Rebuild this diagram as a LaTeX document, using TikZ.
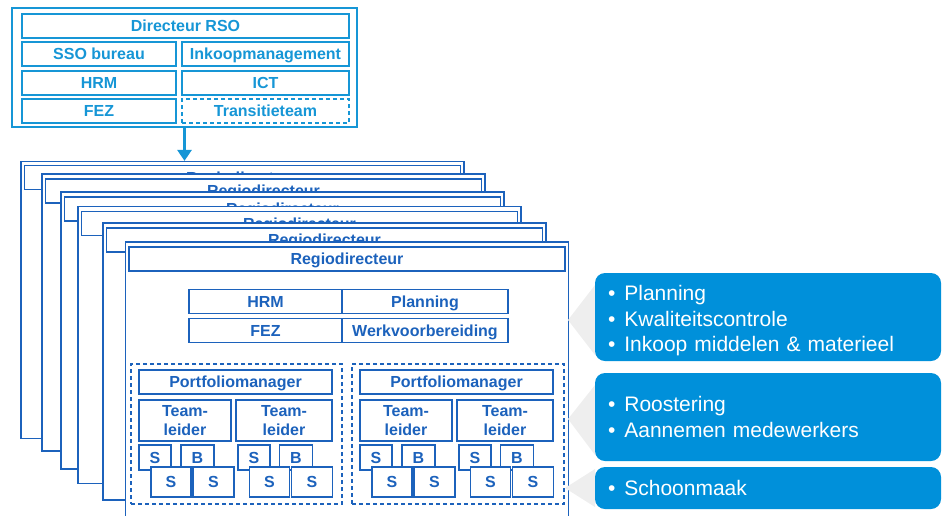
\documentclass[tikz,border=0pt]{standalone}
\usepackage{fontspec}
\setmainfont{Liberation Sans}
\usetikzlibrary{positioning,arrows.meta}
\definecolor{rsoblue}{RGB}{22,150,214}
\definecolor{regblue}{RGB}{28,98,188}
\definecolor{infoblue}{RGB}{0,144,218}
\definecolor{wedgegrey}{RGB}{238,238,238}
\newcommand\bul{\textbullet\hspace{9pt}}

\begin{document}
\begin{tikzpicture}[x=1pt,y=-1pt,
		lbl/.style={draw,fill=white,inner sep=0pt,align=center,font=\bfseries\fontsize{16}{18}\selectfont},
		oneline/.style={text height=12pt,text depth=0.5pt},
		rsobox/.style={lbl,oneline,draw=rsoblue,text=rsoblue,line width=1.2pt,minimum height=24pt},
		regline/.style={lbl,draw=regblue,text=regblue,line width=1.2pt},
		reg/.style={regline,oneline},
		panel/.style={reg,minimum width=443pt,minimum height=277pt},
		ptitle/.style={reg,minimum width=436pt,minimum height=24pt},
		pmbox/.style={reg,minimum width=193pt,minimum height=24pt},
		tlbox/.style={regline,minimum height=41pt,font=\bfseries\fontsize{16}{18.5}\selectfont},
		sback/.style={reg,minimum height=25pt},
		sfront/.style={reg,minimum height=30pt},
		group/.style={draw=regblue,line width=1.2pt,dash pattern=on 4pt off 3pt,minimum width=211pt,minimum height=140pt,inner sep=0pt},
		info/.style={fill=infoblue,text=white,rounded corners=10pt,minimum width=346pt,text width=320pt,align=left,inner sep=0pt,font=\fontsize{21}{25.5}\selectfont}]
	\clip (0,0) rectangle (942,515);
	% RSO
	\node[rsobox,line width=1.5pt,minimum width=345pt,minimum height=119pt] (rso) at (184.5,67.5) {};
	\node[rsobox,minimum width=327pt] (dir) at (185.5,26) {Directeur RSO};
	\node[rsobox,minimum width=154pt] (sso) at (99,54) {SSO bureau};
	\node[rsobox,minimum width=167pt] (ink) at (265.5,54) {Inkoopmanagement};
	\node[rsobox,minimum width=154pt] (hrm) at (99,83) {HRM};
	\node[rsobox,minimum width=167pt] (ict) at (265.5,83) {ICT};
	\node[rsobox,minimum width=154pt] (fez) at (99,111) {FEZ};
	\node[rsobox,dash pattern=on 4pt off 3pt,minimum width=167pt] (tra) at (265.5,111) {Transitieteam};
	% regio's
	\node[panel] (rg1) at (242.5,300) {};
	\node[ptitle,below=4pt of rg1.north] (rt1) {Regiodirecteur};
	\node[panel] (rg2) at (263.5,312.5) {};
	\node[ptitle,below=5pt of rg2.north] (rt2) {Regiodirecteur};
	\node[panel] (rg3) at (282.5,330.5) {};
	\node[ptitle,below=5pt of rg3.north] (rt3) {Regiodirecteur};
	\node[panel] (rg4) at (299.5,345) {};
	\node[ptitle,below=5pt of rg4.north] (rt4) {Regiodirecteur};
	\node[panel] (rg5) at (324.5,361.5) {};
	\node[ptitle,below=5pt of rg5.north] (rt5) {Regiodirecteur};
	\node[panel] (rg6) at (347,380.5) {};
	\node[ptitle,below=5pt of rg6.north] (rt6) {Regiodirecteur};
	% staf
	\node[reg,minimum width=153pt,minimum height=24pt] (rhrm) at (265.5,301.5) {HRM};
	\node[reg,minimum width=166pt,minimum height=24pt] (rpla) at (425,301.5) {Planning};
	\node[reg,minimum width=153pt,minimum height=24pt] (rfez) at (265.5,330.5) {FEZ};
	\node[reg,minimum width=166pt,minimum height=24pt] (rwvb) at (425,330.5) {Werkvoorbereiding};
	% portfolio links
	\node[group] (pf1) at (236.5,434) {};
	\node[pmbox] (pm1) at (235.5,382) {Portfoliomanager};
	\node[tlbox,minimum width=92pt] (tl1) at (185,420.5) {Team-\\leider};
	\node[tlbox,minimum width=96pt] (tl2) at (284,420.5) {Team-\\leider};
	\node[sback,minimum width=32pt] (s11) at (155,457.5) {S};
	\node[sback,minimum width=33pt] (b11) at (197.5,457.5) {B};
	\node[sfront,minimum width=40pt] (s12) at (171,482) {S};
	\node[sfront,minimum width=41pt] (s13) at (213.5,482) {S};
	\node[sback,minimum width=32pt] (s21) at (254,457.5) {S};
	\node[sback,minimum width=33pt] (b21) at (296,457.5) {B};
	\node[sfront,minimum width=40pt] (s22) at (269.5,482) {S};
	\node[sfront,minimum width=41pt] (s23) at (312,482) {S};
	% portfolio rechts
	\node[group,minimum width=212pt] (pf2) at (458,434) {};
	\node[pmbox] (pm2) at (456.5,382) {Portfoliomanager};
	\node[tlbox,minimum width=92pt] (tl3) at (406,420.5) {Team-\\leider};
	\node[tlbox,minimum width=96pt] (tl4) at (505,420.5) {Team-\\leider};
	\node[sback,minimum width=32pt] (s31) at (376,457.5) {S};
	\node[sback,minimum width=33pt] (b31) at (418.5,457.5) {B};
	\node[sfront,minimum width=40pt] (s32) at (392,482) {S};
	\node[sfront,minimum width=41pt] (s33) at (434.5,482) {S};
	\node[sback,minimum width=32pt] (s41) at (475,457.5) {S};
	\node[sback,minimum width=33pt] (b41) at (517,457.5) {B};
	\node[sfront,minimum width=40pt] (s42) at (490.5,482) {S};
	\node[sfront,minimum width=41pt] (s43) at (533,482) {S};
	% taken
	\fill[wedgegrey] (568,320) -- (595,285) -- (595,355) -- cycle;
	\fill[wedgegrey] (568,419) -- (595,385) -- (595,455) -- cycle;
	\fill[wedgegrey] (565,488) -- (595,469) -- (595,507) -- cycle;
	\node[info,minimum height=88pt] (tk1) at (768,317) {\rule{0pt}{23pt}\bul Planning\\\bul Kwaliteitscontrole\\\bul Inkoop middelen \& materieel};
	\node[info,minimum height=88pt] (tk2) at (768,417) {\bul Roostering\\\bul Aannemen medewerkers};
	\node[info,minimum height=42pt] (tk3) at (768,488) {\bul Schoonmaak};
	\draw[rsoblue,line width=3.5pt,-{Triangle[width=14pt,length=11pt]}] (rso.south) -- (rso.south |- rg1.north);
\end{tikzpicture}
\end{document}
